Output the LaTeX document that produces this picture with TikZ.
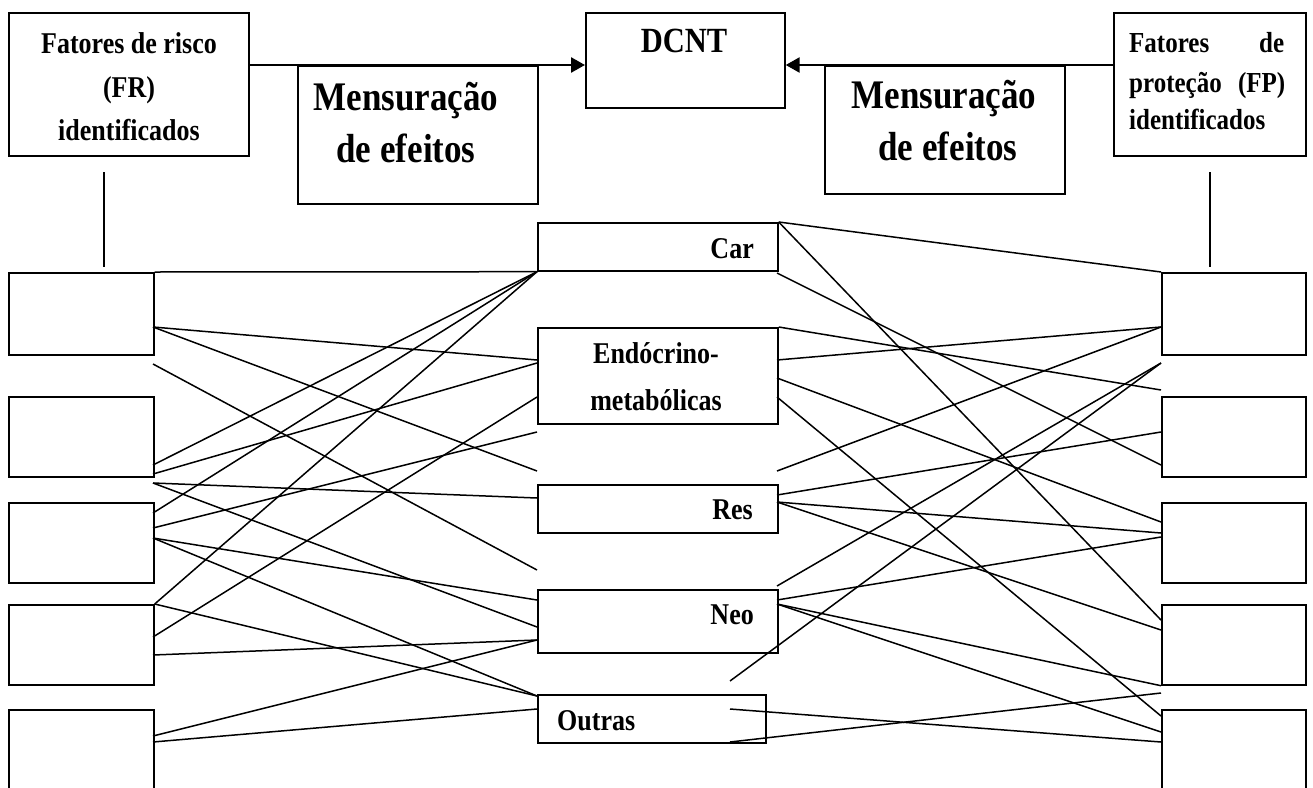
\documentclass[tikz,border=0pt]{standalone}
\usepackage{fontspec}
\setmainfont{Liberation Serif}
\usetikzlibrary{arrows.meta}
\newcommand{\talltxt}[1]{\scalebox{1}[1.16]{#1}}
\begin{document}
\begin{tikzpicture}[x=1pt,y=-1pt,
  box/.style={draw, line width=1.7pt, rectangle, inner sep=0pt, anchor=north west},
  conn/.style={line width=1.5pt},
  bigarrow/.style={line width=2.6pt, -{Triangle[length=14pt,width=15pt]}},
  txt/.style={inner sep=0pt, font=\bfseries\fontsize{26}{30}\selectfont},
  txtfp/.style={inner sep=0pt, font=\bfseries\fontsize{25}{30}\selectfont},
  txtbig/.style={inner sep=0pt, font=\bfseries\fontsize{35}{40}\selectfont},
  txtdc/.style={inner sep=0pt, font=\bfseries\fontsize{30.5}{36}\selectfont}]
\useasboundingbox (0,0) rectangle (1313,787);
\fill[white] (0,0) rectangle (1313,787);
\clip (0,0) rectangle (1313,787);

% top boxes
\node[box, minimum width=240pt, minimum height=143pt] (FR) at (8,12) {};
\node[box, fill=white, minimum width=240pt, minimum height=138pt] (M1) at (297,65) {};
\node[box, minimum width=199pt, minimum height=95pt] (DCNT) at (585,12) {};
\node[box, fill=white, minimum width=240pt, minimum height=128pt] (M2) at (824,65) {};
\node[box, minimum width=192pt, minimum height=143pt] (FP) at (1113,12) {};

\draw[bigarrow] ([yshift=-53pt]FR.north east) -- ([yshift=-53pt]DCNT.north west);
\draw[bigarrow] ([yshift=-53pt]FP.north west) -- ([yshift=-53pt]DCNT.north east);

% top texts
\node[txt, anchor=base] (t1) at (129,53) {\talltxt{Fatores de risco}};
\node[txt, anchor=base] (t2) at (129,97) {\talltxt{(FR)}};
\node[txt, anchor=base] (t3) at (129,140) {\talltxt{identificados}};
\node[txtfp, anchor=base west] (f1) at (1129,52) {\talltxt{\makebox[155pt][l]{Fatores\hfill de}}};
\node[txtfp, anchor=base west] (f2) at (1129,92) {\talltxt{\makebox[156pt][l]{proteção\hfill(FP)}}};
\node[txtfp, anchor=base west] (f3) at (1129,129) {\talltxt{identificados}};
\node[txtbig, anchor=base] (m1a) at (406,110) {\talltxt{Mensuração}};
\node[txtbig, anchor=base] (m1b) at (406,162) {\talltxt{de efeitos}};
\node[txtbig, anchor=base] (m2a) at (944,108) {\talltxt{Mensuração}};
\node[txtbig, anchor=base] (m2b) at (948,160) {\talltxt{de efeitos}};
\node[txtdc, anchor=base] (dc) at (684,52) {\talltxt{DCNT}};

% vertical lines
\coordinate (frv1) at (104,172); \coordinate (frv2) at (104,267);
\coordinate (fpv1) at (1210,172); \coordinate (fpv2) at (1210,267);
\draw[conn] (frv1) -- (frv2);
\draw[conn] (fpv1) -- (fpv2);

% left boxes
\node[box, minimum width=145pt, minimum height=82pt] (L1) at (8,272) {};
\node[box, minimum width=145pt, minimum height=80pt] (L2) at (8,396) {};
\node[box, minimum width=145pt, minimum height=80pt] (L3) at (8,502) {};
\node[box, minimum width=145pt, minimum height=80pt] (L4) at (8,604) {};
\node[box, minimum width=145pt, minimum height=120pt] (L5) at (8,709) {};

% right boxes
\node[box, minimum width=144pt, minimum height=82pt] (R1) at (1161,272) {};
\node[box, minimum width=144pt, minimum height=80pt] (R2) at (1161,396) {};
\node[box, minimum width=144pt, minimum height=80pt] (R3) at (1161,502) {};
\node[box, minimum width=144pt, minimum height=80pt] (R4) at (1161,604) {};
\node[box, minimum width=144pt, minimum height=120pt] (R5) at (1161,709) {};

% middle boxes
\node[box, minimum width=240pt, minimum height=48pt] (Car) at (537,222) {};
\node[box, minimum width=240pt, minimum height=96pt] (Endo) at (537,327) {};
\node[box, minimum width=240pt, minimum height=48pt] (Res) at (537,484) {};
\node[box, minimum width=240pt, minimum height=63pt] (Neo) at (537,589) {};
\node[box, minimum width=228pt, minimum height=48pt] (Out) at (537,694) {};

\node[txt, anchor=base east] (tcar) at (754,258) {\talltxt{Car}};
\node[txt, anchor=base] (te1) at (656,363) {\talltxt{Endócrino-}};
\node[txt, anchor=base] (te2) at (656,410) {\talltxt{metabólicas}};
\node[txt, anchor=base east] (tres) at (753,519) {\talltxt{Res}};
\node[txt, anchor=base east] (tneo) at (754,624) {\talltxt{Neo}};
\node[txt, anchor=base west] (tout) at (557,730) {\talltxt{Outras}};

% left endpoints
\coordinate (l1a) at (153,327);
\coordinate (lfree1) at (153,364);
\coordinate (l2a) at (153,465);
\coordinate (l2b) at (153,474);
\coordinate (lgap2) at (153,483);
\coordinate (l3a) at (153,513);
\coordinate (l3b) at (153,528);
\coordinate (l3c) at (153,538);
\coordinate (l4a) at (153,637);
\coordinate (l4b) at (153,655);
\coordinate (l5a) at (153,736);
\coordinate (l5b) at (153,742);
% middle-left endpoints
\coordinate (e1) at (537,360);
\coordinate (e2) at (537,363);
\coordinate (e3) at (537,397);
\coordinate (mfree1) at (537,432);
\coordinate (mfree2) at (537,471);
\coordinate (r0) at (537,498);
\coordinate (mfree3) at (537,570);
\coordinate (n1) at (537,600);
\coordinate (n2) at (537,627);
\coordinate (n3) at (537,640);
\coordinate (o1) at (537,696);
\coordinate (o2) at (537,709);

\draw[conn] (L1.north east) -- (Car.south west);
\draw[conn] (l1a) -- (e1);
\draw[conn] (l1a) -- (mfree2);
\draw[conn] (lfree1) -- (mfree3);
\draw[conn] (l2a) -- (Car.south west);
\draw[conn] (l2b) -- (e2);
\draw[conn] (lgap2) -- (r0);
\draw[conn] (lgap2) -- (n2);
\draw[conn] (l3a) -- (Car.south west);
\draw[conn] (l3b) -- (mfree1);
\draw[conn] (l3c) -- (n1);
\draw[conn] (l3c) -- (o1);
\draw[conn] (L4.north east) -- (Car.south west);
\draw[conn] (L4.north east) -- (o1);
\draw[conn] (l4a) -- (e3);
\draw[conn] (l4b) -- (n3);
\draw[conn] (l5a) -- (n3);
\draw[conn] (l5b) -- (o2);

% middle-right endpoints
\coordinate (mrfree1) at (777,273);
\coordinate (er1) at (777,360);
\coordinate (er2) at (777,378);
\coordinate (er3) at (777,397);
\coordinate (mrfree2) at (777,471);
\coordinate (rs1) at (777,495);
\coordinate (rs2) at (777,502);
\coordinate (mrfree3) at (777,586);
\coordinate (nr1) at (777,600);
\coordinate (nr2) at (777,604);
\coordinate (ofree) at (730,681);
\coordinate (oin) at (730,709);
\coordinate (obot) at (730,742);
% right endpoints
\coordinate (rr1) at (1161,327);
\coordinate (rgap1) at (1161,363);
\coordinate (rgap1b) at (1161,390);
\coordinate (rr2a) at (1161,432);
\coordinate (rr2b) at (1161,465);
\coordinate (rr3a) at (1161,522);
\coordinate (rr3b) at (1161,533);
\coordinate (rr3c) at (1161,537);
\coordinate (rr4a) at (1161,620);
\coordinate (rr4b) at (1161,630);
\coordinate (rgap4) at (1161,693);
\coordinate (rr5a) at (1161,716);
\coordinate (rr5b) at (1161,732);
\coordinate (rr5c) at (1161,742);

\draw[conn] (Car.north east) -- (R1.north west);
\draw[conn] (Car.north east) -- (rr4a);
\draw[conn] (mrfree1) -- (rr2b);
\draw[conn] (Endo.north east) -- (rgap1b);
\draw[conn] (er1) -- (rr1);
\draw[conn] (er2) -- (rr3a);
\draw[conn] (er3) -- (rr5a);
\draw[conn] (mrfree2) -- (rr1);
\draw[conn] (rs1) -- (rr2a);
\draw[conn] (rs2) -- (rr3b);
\draw[conn] (rs2) -- (rr4b);
\draw[conn] (mrfree3) -- (rgap1);
\draw[conn] (nr1) -- (rr3c);
\draw[conn] (nr2) -- (R4.south west);
\draw[conn] (nr2) -- (rr5b);
\draw[conn] (ofree) -- (rgap1);
\draw[conn] (oin) -- (rr5c);
\draw[conn] (obot) -- (rgap4);
\end{tikzpicture}
\end{document}
